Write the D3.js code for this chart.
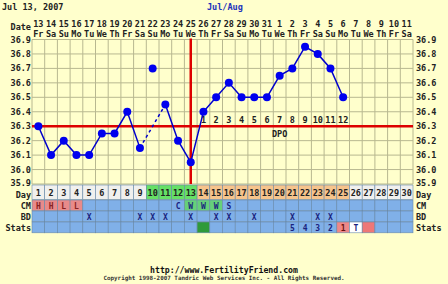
<!DOCTYPE html>
<html>
<head>
<meta charset="utf-8">
<script src="https://cdn.jsdelivr.net/npm/d3@7"></script>
<style>
  body { margin: 0; background: #ffffcc; }
  text { font-family: "DejaVu Sans Mono", monospace; font-weight: bold; }
</style>
</head>
<body>
<svg id="chart" width="448" height="284"></svg>
<script>
const days = d3.range(1, 31);
const dates = [13,14,15,16,17,18,19,20,21,22,23,24,25,26,27,28,29,30,31,1,2,3,4,5,6,7,8,9,10,11];
const weekdays = ["Fr","Sa","Su","Mo","Tu","We","Th","Fr","Sa","Su","Mo","Tu","We","Th","Fr","Sa","Su","Mo","Tu","We","Th","Fr","Sa","Su","Mo","Tu","We","Th","Fr","Sa"];
// temps per cycle day, null = none / discarded
const temps = [36.3,36.1,36.2,36.1,36.1,36.25,36.25,36.4,36.15,null,36.45,36.2,36.05,36.4,36.5,36.6,36.5,36.5,36.5,36.65,36.7,36.85,36.8,36.7,36.5];
const discarded = [{day: 10, temp: 36.7}];
const yTicks = [36.9,36.8,36.7,36.6,36.5,36.4,36.3,36.2,36.1,36.0,35.9];
const coverline = 36.3, ovDay = 13;
const dpo = [1,2,3,4,5,6,7,8,9,10,11,12]; // from day 14
const cm = {1:"H",2:"H",3:"L",4:"L",12:"C",13:"W",14:"W",15:"W",16:"S"};
const bd = [5,9,10,11,13,15,16,18,21,23,24];
const stats = {21:"5",22:"4",23:"3",24:"2",25:"1",26:"T"};
const phase = d => d >= 10 && d <= 13 ? "fertile" : d >= 14 && d <= 25 ? "luteal" : "other";

const svg = d3.select("#chart");
const x = d3.scaleBand().domain(days).range([32, 413]);
const y = d3.scaleLinear().domain([35.9, 36.9]).range([184, 39.5]);
const cx = d => x(d) + x.bandwidth() / 2;

// header
svg.append("text").attr("x", 2).attr("y", 10).attr("font-size", 8.5).attr("fill", "#222").text("Jul 13, 2007");
svg.append("text").attr("x", 207).attr("y", 10).attr("font-size", 8.5).attr("fill", "#2233bb").text("Jul/Aug");
svg.append("text").attr("x", 31).attr("y", 30).attr("text-anchor", "end").attr("font-size", 8.5).attr("fill", "#222").text("Date");
svg.append("g").selectAll("text").data(days).join("text")
  .attr("x", cx).attr("y", 26.5).attr("text-anchor", "middle").attr("font-size", 8.5).attr("fill", "#222")
  .text(d => dates[d - 1]);
svg.append("g").selectAll("text").data(days).join("text")
  .attr("x", cx).attr("y", 36.5).attr("text-anchor", "middle").attr("font-size", 8.5).attr("fill", "#222")
  .text(d => weekdays[d - 1]);

// grid
const grid = svg.append("g");
grid.append("rect").attr("x", 32).attr("y", y(36.9)).attr("width", 381).attr("height", y(35.9) - y(36.9))
  .attr("fill", "#ffffcc");
grid.selectAll("line.v").data(d3.range(0, 31)).join("line")
  .attr("x1", i => 32 + i * x.step()).attr("x2", i => 32 + i * x.step())
  .attr("y1", y(36.9)).attr("y2", y(35.9)).attr("stroke", "#b8b890").attr("stroke-width", 1);
grid.selectAll("line.h").data(yTicks).join("line")
  .attr("x1", 32).attr("x2", 413).attr("y1", y).attr("y2", y).attr("stroke", "#b8b890").attr("stroke-width", 1);

// y axis labels both sides
const tickY = d => d === 35.9 ? y(d) + 1.5 : y(d) + 3;
svg.append("g").selectAll("text").data(yTicks).join("text")
  .attr("x", 31).attr("y", tickY).attr("text-anchor", "end").attr("font-size", 8.5).attr("fill", "#222")
  .text(d => d.toFixed(1));
svg.append("g").selectAll("text").data(yTicks).join("text")
  .attr("x", 416).attr("y", tickY).attr("font-size", 8.5).attr("fill", "#222")
  .text(d => d.toFixed(1));

// coverline and ovulation line
svg.append("line").attr("x1", 32).attr("x2", 413).attr("y1", y(coverline)).attr("y2", y(coverline))
  .attr("stroke", "#dd0000").attr("stroke-width", 2.5);
svg.append("line").attr("x1", cx(ovDay)).attr("x2", cx(ovDay)).attr("y1", y(36.9) - 1).attr("y2", y(35.9))
  .attr("stroke", "#dd0000").attr("stroke-width", 2.5);

// DPO labels
svg.append("g").selectAll("text").data(dpo).join("text")
  .attr("x", (d, i) => cx(14 + i)).attr("y", y(coverline) - 3).attr("text-anchor", "middle")
  .attr("font-size", 8.5).attr("fill", "#222").text(d => d);
svg.append("text").attr("x", cx(20)).attr("y", y(coverline) + 11).attr("text-anchor", "middle")
  .attr("font-size", 8.5).attr("fill", "#222").text("DPO");

// temperature line
const pts = temps.map((t, i) => ({day: i + 1, temp: t}));
const line = d3.line().defined(d => d.temp != null).x(d => cx(d.day)).y(d => y(d.temp));
svg.append("path").datum(pts).attr("d", line).attr("fill", "none").attr("stroke", "#0000cc").attr("stroke-width", 1.5);
// dashed bridge over the gap
const gapPts = [pts[8], pts[10]];
svg.append("path").datum(gapPts).attr("d", d3.line().x(d => cx(d.day)).y(d => y(d.temp)))
  .attr("fill", "none").attr("stroke", "#0000cc").attr("stroke-width", 1.5).attr("stroke-dasharray", "3,3");
svg.append("g").selectAll("circle").data(pts.filter(d => d.temp != null).concat(discarded)).join("circle")
  .attr("cx", d => cx(d.day)).attr("cy", d => y(d.temp)).attr("r", 4).attr("fill", "#0000ee");

// bottom rows
const rows = [
  {name: "Day", y0: 185, h: 14.5, ty: 197.5},
  {name: "CM", y0: 200, h: 10.8, ty: 208.5},
  {name: "BD", y0: 211, h: 10.8, ty: 219.5},
  {name: "Stats", y0: 222, h: 10.8, ty: 230.5}
];
const dayFill = {fertile: "#66e066", luteal: "#f6c48c", other: "#f0f0ee"};
const rowsG = svg.append("g");
rows.forEach(r => {
  rowsG.append("g").selectAll("rect").data(days).join("rect")
    .attr("x", d => x(d)).attr("y", r.y0).attr("width", x.step()).attr("height", r.h)
    .attr("stroke", "#6688aa").attr("stroke-width", 0.6)
    .attr("fill", d => {
      if (r.name === "Day") return dayFill[phase(d)];
      if (r.name === "CM") return d <= 4 ? "#e88a8a" : cm[d] === "W" ? "#66d07a" : "#80b0e8";
      if (r.name === "Stats") return d === 14 ? "#2f9a3a" : d === 25 ? "#ee8888" : d === 26 ? "#ffffff" : d === 27 ? "#ee7777" : "#80b0e8";
      return "#80b0e8";
    });
  svg.append("text").attr("x", 31).attr("y", r.ty).attr("text-anchor", "end")
    .attr("font-size", 8.5).attr("fill", "#222").text(r.name);
  svg.append("text").attr("x", 416).attr("y", r.ty)
    .attr("font-size", 8.5).attr("fill", "#222").text(r.name);
});
rowsG.append("g").selectAll("text").data(days).join("text")
  .attr("x", cx).attr("y", 196).attr("text-anchor", "middle").attr("font-size", 8.5).attr("fill", "#222").text(d => d);
rowsG.append("g").selectAll("text").data(Object.keys(cm).map(Number)).join("text")
  .attr("x", cx).attr("y", 208.5).attr("text-anchor", "middle").attr("font-size", 8)
  .attr("fill", d => d <= 4 ? "#882222" : "#1a237e").text(d => cm[d]);
rowsG.append("g").selectAll("text").data(bd).join("text")
  .attr("x", cx).attr("y", 219.5).attr("text-anchor", "middle").attr("font-size", 8).attr("fill", "#1a237e").text("X");
rowsG.append("g").selectAll("text").data(Object.keys(stats).map(Number)).join("text")
  .attr("x", cx).attr("y", 230.5).attr("text-anchor", "middle").attr("font-size", 8)
  .attr("fill", d => d === 25 ? "#661111" : "#1a237e").text(d => stats[d]);

// footer
svg.append("text").attr("x", 224).attr("y", 272.5).attr("text-anchor", "middle").attr("font-size", 8.2)
  .attr("fill", "#111").text("http://www.FertilityFriend.com");
svg.append("text").attr("x", 224).attr("y", 280).attr("text-anchor", "middle").attr("font-size", 5.9)
  .attr("font-weight", "normal").attr("fill", "#333")
  .text("Copyright 1998-2007 Tandric Web Services Inc. - All Rights Reserved.");
</script>
</body>
</html>
